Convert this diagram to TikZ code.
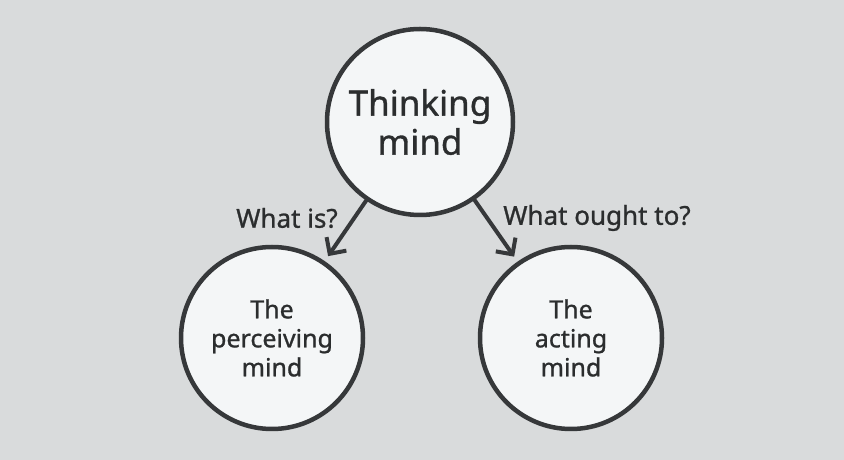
\documentclass[tikz,border=0pt]{standalone}
\usepackage{fontspec}
\setmainfont{Noto Sans}[FakeBold=1]
\usetikzlibrary{arrows.meta}
\definecolor{bg}{HTML}{D9DBDC}
\definecolor{disc}{HTML}{F4F6F7}
\definecolor{ink}{HTML}{36383A}
\begin{document}
\begin{tikzpicture}[line cap=round, line join=round, x=1pt, y=1pt,
    mind/.style={circle, draw=ink, fill=disc, line width=4.5pt, minimum size=182pt, inner sep=0pt, align=center, text=ink!80!black, font=\fontsize{25}{29}\selectfont},
    ask/.style={text=ink!80!black, font=\fontsize{26}{30}\selectfont, inner sep=0pt},
    arr/.style={draw=ink, line width=4pt, -{Straight Barb[length=12pt,width=24pt]}, shorten >=6pt}]
                \fill[bg] (0,0) rectangle (844,460);
                \node[mind, minimum size=186pt, font=\fontsize{35}{39}\selectfont] (think) at (420,338) {Thinking\\mind};
                \node[mind] (perc) at (272,122) {The\\perceiving\\mind};
                \node[mind] (act) at (571,122) {The\\acting\\mind};
                \draw[arr] (think) -- (perc);
                \draw[arr] (think) -- (act);
                \node[ask] (is) at (287,242) {What is?};
                \node[ask] (ought) at (597,242) {What ought to?};
            \end{tikzpicture}
\end{document}
